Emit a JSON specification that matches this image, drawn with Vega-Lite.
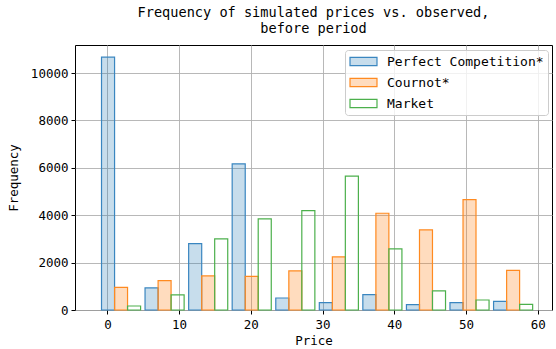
{
  "$schema": "https://vega.github.io/schema/vega-lite/v6.json",
  "autosize": {"type": "none"},
  "padding": {"left": 75, "top": 45, "right": 4, "bottom": 39},
  "width": 477,
  "height": 265,
  "background": "white",
  "config": {
    "font": "DejaVu Sans Mono",
    "view": {"stroke": "black", "strokeWidth": 1},
    "axis": {
      "labelFont": "DejaVu Sans Mono",
      "titleFont": "DejaVu Sans Mono",
      "labelFontSize": 12.5,
      "titleFontSize": 12.5,
      "titleFontWeight": "normal",
      "labelColor": "black",
      "titleColor": "black",
      "domain": false,
      "tickColor": "black",
      "tickSize": 4,
      "gridColor": "#b0b0b0",
      "gridWidth": 0.9
    },
    "legend": {
      "labelFont": "DejaVu Sans Mono",
      "labelFontSize": 13,
      "labelColor": "black",
      "labelLimit": 0,
      "symbolType": "M-2,-0.6H2V0.6H-2Z",
      "symbolSize": 182,
      "symbolStrokeWidth": 1.2,
      "symbolOffset": 7,
      "labelOffset": 16,
      "rowPadding": 6,
      "padding": 4,
      "strokeColor": "#cccccc",
      "fillColor": "rgba(255,255,255,0.8)",
      "cornerRadius": 3
    }
  },
  "title": {
    "text": ["Frequency of simulated prices vs. observed,", "before period"],
    "font": "DejaVu Sans Mono",
    "fontSize": 13.6,
    "fontWeight": "normal",
    "color": "black",
    "anchor": "middle",
    "frame": "group",
    "lineHeight": 16,
    "offset": 9
  },
  "data": {
    "values": [
      {"series": "Perfect Competition*", "lo": -0.82, "hi": 1.0, "count": 10670},
      {"series": "Cournot*", "lo": 1.0, "hi": 2.81, "count": 955},
      {"series": "Market", "lo": 2.81, "hi": 4.63, "count": 169},
      {"series": "Perfect Competition*", "lo": 5.25, "hi": 7.07, "count": 930},
      {"series": "Cournot*", "lo": 7.07, "hi": 8.88, "count": 1238},
      {"series": "Market", "lo": 8.88, "hi": 10.7, "count": 634},
      {"series": "Perfect Competition*", "lo": 11.33, "hi": 13.15, "count": 2802},
      {"series": "Cournot*", "lo": 13.15, "hi": 14.96, "count": 1437},
      {"series": "Market", "lo": 14.96, "hi": 16.78, "count": 3000},
      {"series": "Perfect Competition*", "lo": 17.4, "hi": 19.22, "count": 6170},
      {"series": "Cournot*", "lo": 19.22, "hi": 21.03, "count": 1420},
      {"series": "Market", "lo": 21.03, "hi": 22.85, "count": 3846},
      {"series": "Perfect Competition*", "lo": 23.48, "hi": 25.3, "count": 507},
      {"series": "Cournot*", "lo": 25.3, "hi": 27.11, "count": 1648},
      {"series": "Market", "lo": 27.11, "hi": 28.93, "count": 4196},
      {"series": "Perfect Competition*", "lo": 29.55, "hi": 31.37, "count": 309},
      {"series": "Cournot*", "lo": 31.37, "hi": 33.18, "count": 2240},
      {"series": "Market", "lo": 33.18, "hi": 35.0, "count": 5646},
      {"series": "Perfect Competition*", "lo": 35.62, "hi": 37.44, "count": 647},
      {"series": "Cournot*", "lo": 37.44, "hi": 39.25, "count": 4082},
      {"series": "Market", "lo": 39.25, "hi": 41.07, "count": 2578},
      {"series": "Perfect Competition*", "lo": 41.7, "hi": 43.52, "count": 224},
      {"series": "Cournot*", "lo": 43.52, "hi": 45.33, "count": 3381},
      {"series": "Market", "lo": 45.33, "hi": 47.15, "count": 803},
      {"series": "Perfect Competition*", "lo": 47.77, "hi": 49.59, "count": 309},
      {"series": "Cournot*", "lo": 49.59, "hi": 51.4, "count": 4661},
      {"series": "Market", "lo": 51.4, "hi": 53.22, "count": 423},
      {"series": "Perfect Competition*", "lo": 53.85, "hi": 55.67, "count": 363},
      {"series": "Cournot*", "lo": 55.67, "hi": 57.48, "count": 1674},
      {"series": "Market", "lo": 57.48, "hi": 59.3, "count": 237}
    ]
  },
  "mark": {"type": "bar", "strokeWidth": 1.2, "cornerRadius": 0, "orient": "vertical"},
  "encoding": {
    "x": {
      "field": "lo",
      "type": "quantitative",
      "scale": {"domain": [-3.82, 61.3], "nice": false, "zero": false},
      "axis": {"values": [0, 10, 20, 30, 40, 50, 60], "title": "Price", "titlePadding": 4, "labelPadding": 4}
    },
    "x2": {"field": "hi"},
    "y": {
      "field": "count",
      "type": "quantitative",
      "scale": {"domain": [0, 11182], "nice": false},
      "axis": {"values": [0, 2000, 4000, 6000, 8000, 10000], "format": "d", "title": "Frequency", "titlePadding": 10, "labelPadding": 3}
    },
    "y2": {"datum": 0},
    "stroke": {
      "field": "series",
      "type": "nominal",
      "scale": {
        "domain": ["Perfect Competition*", "Cournot*", "Market"],
        "range": ["#3a86c0", "#ff8a20", "#4cb04c"]
      },
      "legend": {"title": null, "orient": "none", "legendX": 270, "legendY": 5}
    },
    "fill": {
      "field": "series",
      "type": "nominal",
      "scale": {
        "domain": ["Perfect Competition*", "Cournot*", "Market"],
        "range": ["rgba(31,119,180,0.25)", "rgba(255,127,14,0.27)", "rgba(255,255,255,0)"]
      },
      "legend": {"title": null, "orient": "none", "legendX": 270, "legendY": 5}
    }
  }
}
